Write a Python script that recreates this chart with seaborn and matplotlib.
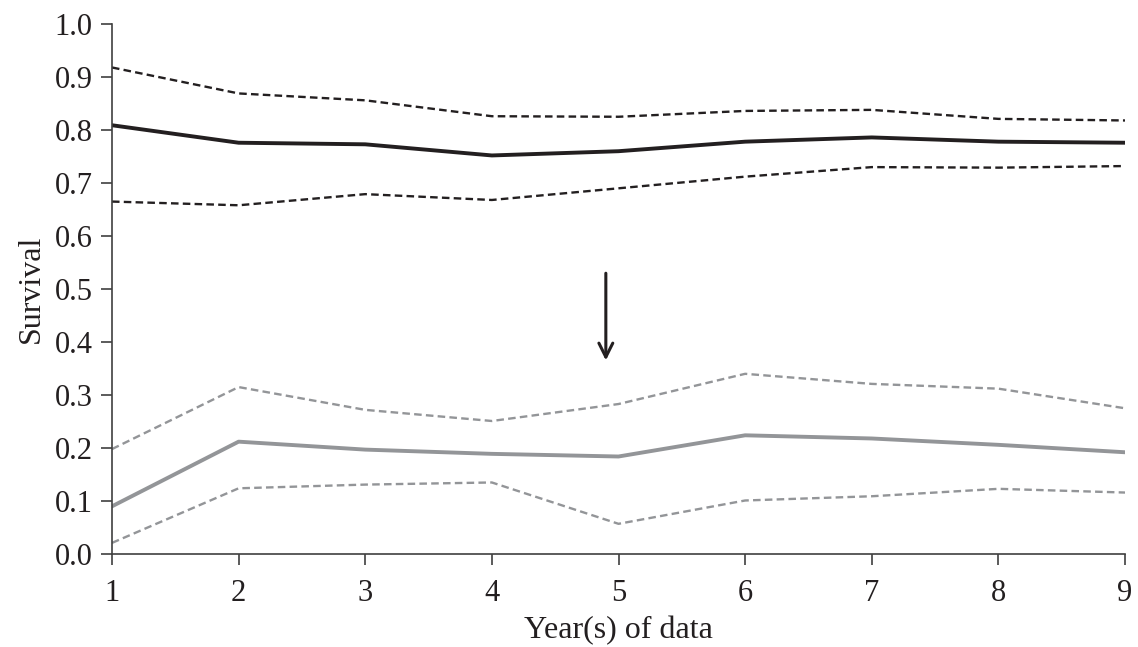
import numpy as np
import pandas as pd
import seaborn as sns
import matplotlib.pyplot as plt

years = [1, 2, 3, 4, 5, 6, 7, 8, 9]

# black series (estimate + dashed bounds)
black_mid = [0.809, 0.776, 0.773, 0.752, 0.760, 0.778, 0.786, 0.778, 0.776]
black_hi = [0.918, 0.869, 0.856, 0.826, 0.825, 0.836, 0.838, 0.821, 0.818]
black_lo = [0.665, 0.658, 0.679, 0.668, 0.690, 0.712, 0.730, 0.729, 0.732]

# grey series
grey_mid = [0.090, 0.212, 0.197, 0.189, 0.184, 0.224, 0.218, 0.206, 0.192]
grey_hi = [0.198, 0.315, 0.272, 0.251, 0.283, 0.340, 0.321, 0.312, 0.275]
grey_lo = [0.021, 0.124, 0.131, 0.135, 0.057, 0.101, 0.109, 0.123, 0.116]

arrow_x = 4.9
arrow_from = 0.535
arrow_to = 0.360

sns.set_style("ticks")
plt.rcParams['font.family'] = ['Liberation Serif', 'DejaVu Serif']

fig = plt.figure(figsize=(11.38, 6.47), dpi=100)
ax = fig.add_axes([0.0984, 0.1437, 0.8902, 0.8192])

black = '#231f20'
grey = '#939598'

df = pd.DataFrame({'year': years,
                   'black_mid': black_mid, 'black_hi': black_hi, 'black_lo': black_lo,
                   'grey_mid': grey_mid, 'grey_hi': grey_hi, 'grey_lo': grey_lo})

for col, c, dashed in [('black_hi', black, True), ('black_lo', black, True),
                       ('grey_hi', grey, True), ('grey_lo', grey, True),
                       ('black_mid', black, False), ('grey_mid', grey, False)]:
    lw = 1.7 if dashed else 2.8
    sns.lineplot(data=df, x='year', y=col, color=c, lw=lw, ax=ax)
    if dashed:
        ax.lines[-1].set_dashes((3.2, 1.8))

ax.annotate('', xy=(arrow_x, arrow_to), xytext=(arrow_x, arrow_from),
            arrowprops=dict(arrowstyle='->,head_length=1.0,head_width=0.5',
                            color=black, lw=2.2))

ax.set_xlim(1, 9)
ax.set_ylim(0, 1.0)
ax.set_xticks(years)
ax.set_yticks(np.arange(0, 1.01, 0.1))
ax.set_yticklabels([f'{v:.1f}' for v in np.arange(0, 1.01, 0.1)])
ax.tick_params(axis='both', labelsize=22, color='#404040', length=8, width=1.2,
               labelcolor='#231f20', direction='out')
ax.tick_params(axis='y', pad=6)
ax.tick_params(axis='x', pad=10)
for s in ['top', 'right']:
    ax.spines[s].set_visible(False)
for s in ['left', 'bottom']:
    ax.spines[s].set_color('#404040')
    ax.spines[s].set_linewidth(1.2)

ax.set_xlabel('Year(s) of data', fontsize=23, color='#231f20', labelpad=6)
ax.set_ylabel('Survival', fontsize=23, color='#231f20', labelpad=6)

fig.savefig('out.png', dpi=100)
